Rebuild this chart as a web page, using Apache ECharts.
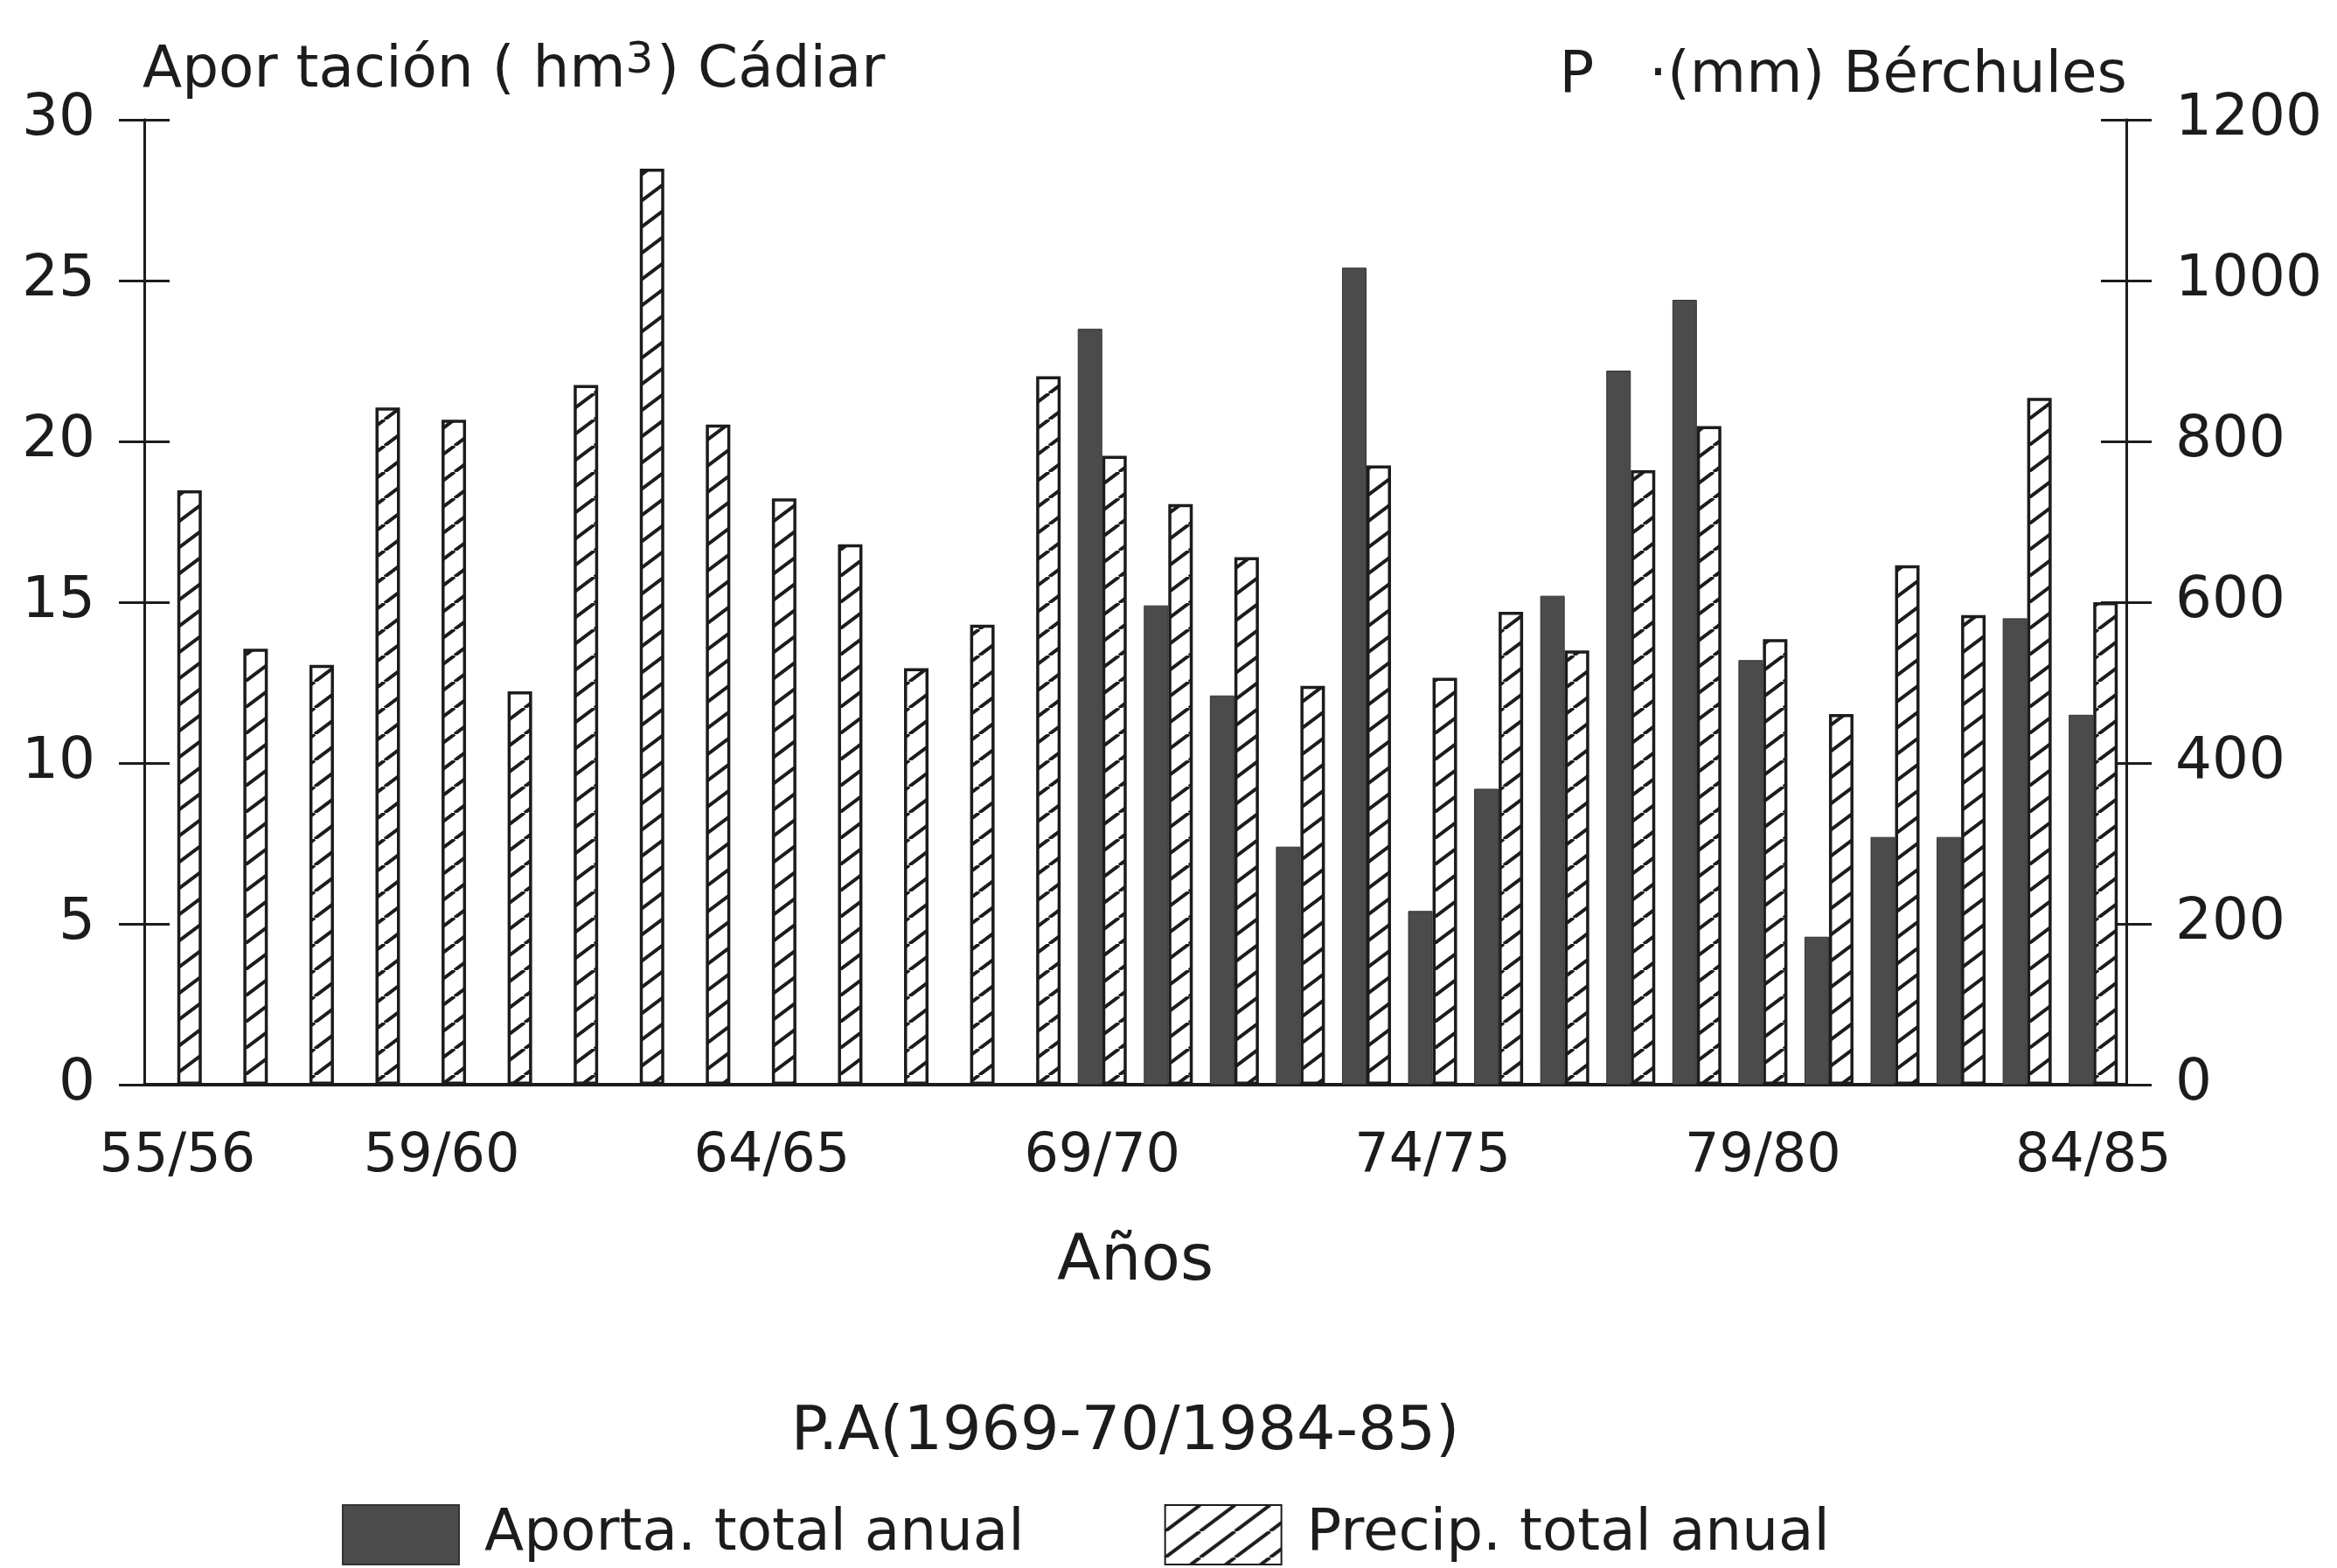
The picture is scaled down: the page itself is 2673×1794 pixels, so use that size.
<!DOCTYPE html>
<html>
<head>
<meta charset="utf-8">
<title>Aportación Cádiar - Precipitación Bérchules</title>
<script src="https://cdn.jsdelivr.net/npm/echarts@6/dist/echarts.min.js"></script>
<style>
html, body { margin: 0; padding: 0; background: #fff; }
#main { width: 2673px; height: 1794px; }
</style>
</head>
<body>
<div id="main"></div>
<script>
// datos
var anios = ['55/56', '56/57', '57/58', '58/59', '59/60', '60/61', '61/62', '62/63', '63/64', '64/65',
             '65/66', '66/67', '67/68', '68/69', '69/70', '70/71', '71/72', '72/73', '73/74', '74/75',
             '75/76', '76/77', '77/78', '78/79', '79/80', '80/81', '81/82', '82/83', '83/84', '84/85'];
// aportacion total anual (hm3) - solo desde 69/70
var aportacion = [null, null, null, null, null, null, null, null, null, null,
                  null, null, null, null, 23.5, 14.9, 12.1, 7.4, 25.4, 5.4,
                  9.2, 15.2, 22.2, 24.4, 13.2, 4.6, 7.7, 7.7, 14.5, 11.5];
// precipitacion total anual (mm)
var precip = [739, 542, 522, 842, 827, 489, 870, 1139, 821, 729,
              672, 518, 572, 881, 782, 722, 656, 496, 770, 506,
              588, 540, 764, 819, 554, 461, 646, 584, 854, 600];
// ejes: [min, max, intervalo]
var ejeIzq = [0, 30, 5];
var ejeDer = [0, 1200, 200];

var negro = '#1c1c1c';
var fuente = 'DejaVu Sans';

// rayado para las barras de precipitacion (lineas "/")
var tw = 40, th = 30;
var rayado = document.createElement('canvas');
rayado.width = tw;
rayado.height = th;
var ctx = rayado.getContext('2d');
ctx.fillStyle = '#ffffff';
ctx.fillRect(0, 0, tw, th);
ctx.strokeStyle = negro;
ctx.lineWidth = 4;
ctx.beginPath();
for (var k = -1; k <= 1; k++) {
    ctx.moveTo(k * tw, th);
    ctx.lineTo(k * tw + tw, 0);
}
ctx.stroke();

var myChart = echarts.init(document.getElementById('main'));

function ejeY(r, pos, interior, conEtiquetas) {
    return {
        type: 'value',
        position: pos,
        min: r[0], max: r[1], interval: r[2],
        axisLine: { show: true, lineStyle: { color: negro, width: 3 } },
        axisTick: { show: true, inside: interior, length: 29, lineStyle: { color: negro, width: 3 } },
        axisLabel: {
            show: conEtiquetas, fontSize: 66, color: negro, fontFamily: fuente, margin: 56,
            formatter: function (v) { return String(v); }
        },
        splitLine: { show: false }
    };
}

var option = {
    animation: false,
    backgroundColor: '#ffffff',
    textStyle: { fontFamily: fuente, color: negro },
    title: [
        {
            text: '{a|Apor tación ( hm}{s|3}{a|) Cádiar}',
            left: 158, top: 40,
            textStyle: {
                fontWeight: 'normal',
                rich: {
                    a: { fontSize: 66, fontWeight: 'normal', fontFamily: fuente, color: negro },
                    s: { fontSize: 50, fontWeight: 'normal', fontFamily: fuente, color: negro, verticalAlign: 'top', padding: [0, 4, 24, 0] }
                }
            }
        },
        {
            text: 'P   ·(mm) Bérchules',
            right: 235, top: 50,
            textStyle: { fontSize: 66, fontWeight: 'normal', fontFamily: fuente, color: negro }
        },
        {
            text: 'P.A(1969-70/1984-85)',
            left: 1282, top: 1600, textAlign: 'center',
            textStyle: { fontSize: 70, fontWeight: 'normal', fontFamily: fuente, color: negro }
        }
    ],
    legend: {
        left: 386, top: 1716,
        icon: 'rect',
        itemWidth: 133, itemHeight: 68,
        itemGap: 160,
        textStyle: { fontSize: 66, fontFamily: fuente, color: negro, padding: [0, 0, 0, 24] },
        data: ['Aporta. total anual', 'Precip. total anual']
    },
    grid: { left: 165, right: 241, top: 137, bottom: 553 },
    xAxis: {
        type: 'category',
        data: anios,
        boundaryGap: true,
        name: 'Años',
        nameLocation: 'middle',
        nameGap: 168,
        nameTextStyle: { fontSize: 73, fontFamily: fuente, color: negro },
        axisLine: { lineStyle: { color: negro, width: 4 } },
        axisTick: { alignWithLabel: true, interval: 0, length: 33, lineStyle: { color: negro, width: 3 } },
        axisLabel: {
            interval: function (i) { return i === 0 || i % 5 === 4; },
            fontSize: 62, color: negro, fontFamily: fuente, margin: 52
        }
    },
    yAxis: [
        ejeY(ejeIzq, 'left', false, true),
        ejeY(ejeDer, 'right', false, true),
        ejeY(ejeIzq, 'left', true, false),
        ejeY(ejeDer, 'right', true, false)
    ],
    series: [
        {
            name: 'Aporta. total anual',
            type: 'bar',
            yAxisIndex: 0,
            data: aportacion,
            barWidth: 28,
            barGap: '0%',
            itemStyle: { color: '#4b4b4b', borderColor: '#333333', borderWidth: 1 }
        },
        {
            name: 'Precip. total anual',
            type: 'bar',
            yAxisIndex: 1,
            data: precip,
            barWidth: 28,
            itemStyle: { color: { image: rayado, repeat: 'repeat' }, borderColor: negro, borderWidth: 3.5 }
        }
    ]
};

myChart.setOption(option);
</script>
</body>
</html>
